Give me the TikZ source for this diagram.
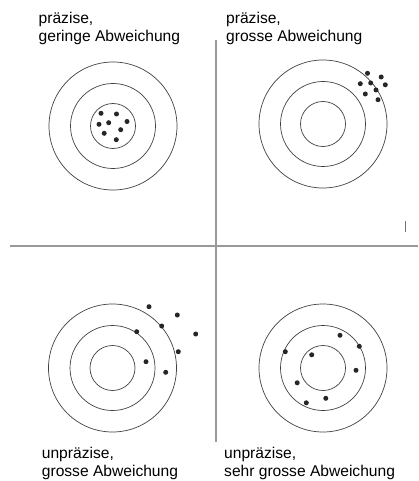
\documentclass[tikz,border=0pt]{standalone}
\usepackage{fontspec}
\setmainfont{Liberation Sans}
\usetikzlibrary{positioning}
\tikzset{
  ring/.style={draw=black!75,line width=0.7pt},
  hit/.style={fill=black!85},
  divider/.style={draw=black!40,line width=1.1pt},
  case label/.style={font=\fontsize{15.6}{17.5}\selectfont,align=left,
    anchor=base west,inner sep=0pt},
}
\newcommand{\target}[1]{%
  \draw[ring] (#1) circle[radius=64] (#1) circle[radius=42.5]
    (#1) circle[radius=22.5];}

\begin{document}
\begin{tikzpicture}[x=1pt,y=-1pt]
  \useasboundingbox (0,0) rectangle (418,481);
  % quadrant dividers
  \draw[divider] (10,246) -- (418,246);
  \draw[divider] (216,40) -- (216,442);
  \draw[black!55,line width=0.8pt] (405,221) -- (405,232);

  \coordinate (tl) at (113,126);
  \coordinate (tr) at (323,124);
  \coordinate (bl) at (112.5,368);
  \coordinate (br) at (323,368);
  \foreach \c in {tl,tr,bl,br}{\target{\c}}

  % shots
  \foreach \p in {(101,113.3),(116.5,114),(99,124.3),(108.7,122.7),
    (127,121.5),(120.7,129.7),(104.2,133.3),(116.3,139.7)}
    \fill[hit] \p circle[radius=2.5];
  \foreach \p in {(367.5,73.3),(381.2,77),(360.3,83.7),(370.7,83),
    (385.3,84.8),(376,90),(365.3,94),(378,99.7)}
    \fill[hit] \p circle[radius=2.5];
  \foreach \p in {(149,306.7),(177.3,315),(161.7,326),(136.7,331.7),
    (195.7,334),(178.3,351.7),(146,361.7),(165.7,372.3)}
    \fill[hit] \p circle[radius=2.5];
  \foreach \p in {(340,335.3),(359.3,346.3),(285.3,351.7),(311.7,354.8),
    (356,370.3),(297.2,382.8),(325.8,398.3),(306.3,402.8)}
    \fill[hit] \p circle[radius=2.5];

  % the node base is the baseline of the second line
  \node[case label] (ltl) at (38.5,41.5) {präzise,\\geringe Abweichung};
  \node[case label] (ltr) at (226,41.5) {präzise,\\grosse Abweichung};
  \node[case label] (lbl) at (41.7,476) {unpräzise,\\grosse Abweichung};
  \node[case label] (lbr) at (224,476) {unpräzise,\\sehr grosse Abweichung};
\end{tikzpicture}
\end{document}
